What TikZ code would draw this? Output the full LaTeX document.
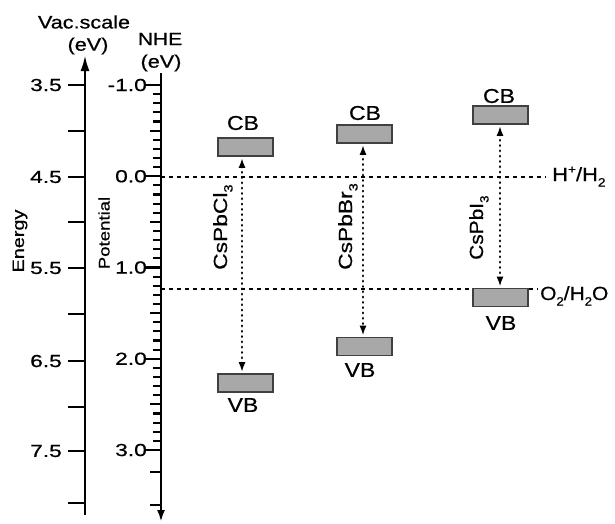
\documentclass[tikz,border=0pt]{standalone}
\usepackage{fontspec}
\setmainfont[FakeBold=0.6]{Liberation Sans}
\usetikzlibrary{arrows.meta}
% widened lettering
\newcommand{\widetext}[2][1.2]{\scalebox{#1}[1]{#2}}
\newcommand{\lowsub}[1]{\raisebox{-0.55ex}{\fontsize{12}{12}\selectfont #1}}
\newcommand{\highsup}[1]{\raisebox{0.75ex}{\fontsize{12}{12}\selectfont #1}}

\begin{document}
\begin{tikzpicture}[x=1pt,y=-1pt,
  axisline/.style={line width=2.6pt},
  tickline/.style={line width=2.2pt},
  band/.style={draw=black!75, fill=black!34, line width=1.6pt,
    minimum width=55pt, minimum height=18pt, inner sep=0pt},
  redox/.style={line width=2.5pt, dash pattern=on 4pt off 4pt},
  gaparrow/.style={line width=2.8pt, line cap=round, dash pattern=on 0.3pt off 5pt,
    {Latex[length=10pt,width=7pt]}-{Latex[length=10pt,width=7pt]},
    shorten <=1pt, shorten >=1pt},
  ticklabel/.style={font=\fontsize{17.5}{18}\selectfont, inner sep=0pt, anchor=east},
  bandlabel/.style={font=\fontsize{20}{22}\selectfont, inner sep=0pt},
  axistitle/.style={font=\fontsize{18}{20}\selectfont, inner sep=0pt},
  compound/.style={font=\fontsize{19}{21}\selectfont, inner sep=0pt,
    rotate=90, anchor=base west},
  couple/.style={font=\fontsize{19}{21}\selectfont, inner sep=0pt, anchor=base west}
]
\useasboundingbox (0,0) rectangle (615,523);

% ---- vacuum energy scale ----
\coordinate (vacBot) at (85,515);
\coordinate (vacTop) at (85,55);
\draw[axisline,-{Latex[length=16pt,width=9pt]}] (vacBot) -- (vacTop);
\foreach \yy in {85,131,177,222,268,314,361,407,451,503}
  \draw[tickline] (68,\yy) -- (85,\yy);
\foreach \v/\yy in {3.5/85,4.5/177,5.5/268,6.5/361,7.5/451}
  \node[ticklabel] (vac\yy) at (62,\yy) {\widetext[1.3]{\v}};
\node[axistitle] (vactitle) at (84,22) {\widetext{Vac.scale}};
\node[axistitle] (vacunit) at (88,46) {\widetext{(eV)}};
\node[axistitle, font=\fontsize{16.5}{18}\selectfont, rotate=90] (energy) at (20,241) {\widetext{Energy}};

% ---- NHE potential scale ----
\coordinate (nheTop) at (161,73);
\coordinate (nheBot) at (161,522);
\draw[axisline,-{Latex[length=12pt,width=8pt]}] (nheTop) -- (nheBot);
\foreach \i in {0,...,40}{
  \pgfmathsetmacro\yy{85+\i*9.125}
  \pgfmathtruncatemacro\m{mod(\i,10)}
  \pgfmathtruncatemacro\h{mod(\i,5)}
  \pgfmathsetmacro\len{ifthenelse(\m==0,15,ifthenelse(\h==0,11,8))}
  \draw[tickline] (161-\len,\yy) -- (161,\yy);
}
\foreach \yy in {472,505}
  \draw[tickline] (150,\yy) -- (161,\yy);
\foreach \v/\yy in {-1.0/85,0.0/176.25,1.0/267.5,2.0/358.75,3.0/450}
  \node[ticklabel] at (147,\yy) {\widetext[1.3]{\v}};
\node[axistitle, font=\fontsize{17.5}{19}\selectfont] (nhetitle) at (160,39) {\widetext{NHE}};
\node[axistitle] (nheunit) at (161,63) {\widetext{(eV)}};
\node[axistitle, font=\fontsize{15.5}{17}\selectfont, rotate=90] (potential) at (104,233) {\widetext{Potential}};

% ---- redox levels ----
\coordinate (hL) at (161,177);
\coordinate (hR) at (546,177);
\coordinate (oL) at (161,289);
\coordinate (oR) at (538,289);
\draw[redox] (hL) -- (hR);
\draw[redox] (oL) -- (oR);
\node[couple] (hcouple) at (552,181) {\widetext[1.15]{H\highsup{+}/H\lowsub{2}}};
\node[couple] (ocouple) at (540,300) {\widetext[1.1]{O\lowsub{2}/H\lowsub{2}O}};

% ---- band edges ----
\node[band] (clCB) at (245.5,147) {};
\node[band] (clVB) at (245.5,383) {};
\node[band] (brCB) at (364.5,134) {};
\node[band] (brVB) at (364.5,346.5) {};
\node[band] (iCB)  at (500.5,115) {};
\node[band] (iVB)  at (500.5,297.5) {};

\node[bandlabel] at (243,123) {\widetext[1.15]{CB}};
\node[bandlabel] at (243,405) {\widetext[1.15]{VB}};
\node[bandlabel] at (365,113) {\widetext[1.15]{CB}};
\node[bandlabel] at (360,370) {\widetext[1.15]{VB}};
\node[bandlabel] at (499,96) {\widetext[1.15]{CB}};
\node[bandlabel] at (501,323) {\widetext[1.15]{VB}};

% ---- band gaps ----
\draw[gaparrow] ([xshift=-3.5pt]clCB.south) -- ([xshift=-3.5pt]clVB.north);
\draw[gaparrow] ([xshift=-1.5pt]brCB.south) -- ([xshift=-1.5pt]brVB.north);
\draw[gaparrow] ([xshift=-0.5pt]iCB.south) -- ([xshift=-0.5pt]iVB.north);

\node[compound] (cl) at (227,270) {\widetext{CsPbCl\lowsub{3}}};
\node[compound] (br) at (352,270) {\widetext{CsPbBr\lowsub{3}}};
\node[compound] (io) at (483,260) {\widetext[1.1]{CsPbI\lowsub{3}}};
\end{tikzpicture}
\end{document}
